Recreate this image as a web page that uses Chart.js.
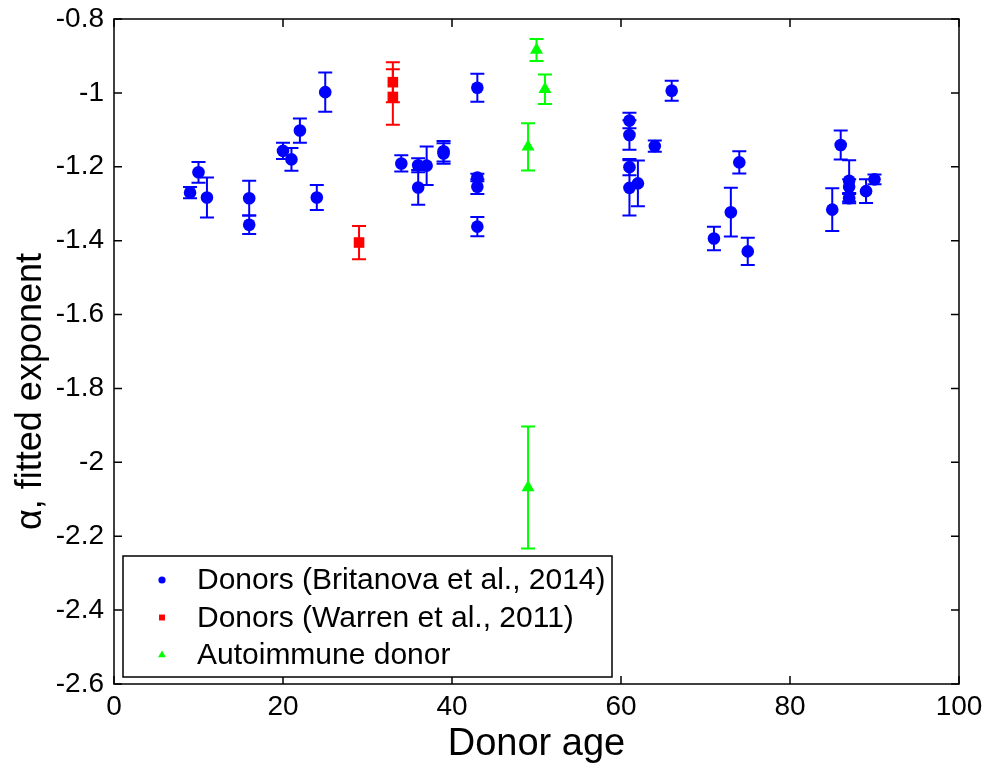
<!DOCTYPE html>
<html>
<head>
<meta charset="utf-8">
<script src="https://cdn.jsdelivr.net/npm/chart.js@4/dist/chart.umd.min.js"></script>
<style>
  html, body { margin: 0; padding: 0; background: #fff; }
  canvas { display: block; }
</style>
</head>
<body>
<canvas id="chart" width="989" height="767"></canvas>
<script>
// Britanova et al., 2014 donors
const britanovaAge = [9, 10, 11, 16, 16, 20, 21, 22, 24, 25, 34, 36, 36, 37, 39, 39, 43, 43, 43, 43,
  61, 61, 61, 61, 62, 64, 66, 71, 73, 74, 75, 85, 86, 87, 87, 87, 89, 90];
const britanovaAlpha = [-1.270, -1.215, -1.283, -1.285, -1.357, -1.157, -1.180, -1.102, -1.283, -0.998,
  -1.191, -1.196, -1.256, -1.197, -1.158, -1.164, -0.986, -1.229, -1.254, -1.362,
  -1.075, -1.114, -1.201, -1.257, -1.245, -1.144, -0.994, -1.394, -1.323, -1.188,
  -1.429, -1.316, -1.141, -1.238, -1.254, -1.285, -1.266, -1.234];
const britanovaErr = [0.015, 0.028, 0.054, 0.047, 0.025, 0.022, 0.031, 0.033, 0.034, 0.053,
  0.022, 0.019, 0.047, 0.052, 0.028, 0.028, 0.038, 0.010, 0.020, 0.026,
  0.021, 0.040, 0.022, 0.075, 0.062, 0.015, 0.027, 0.032, 0.066, 0.030,
  0.037, 0.058, 0.039, 0.056, 0.020, 0.014, 0.032, 0.013];

// Warren et al., 2011 donors
const warrenAge = [29, 33, 33];
const warrenAlpha = [-1.405, -0.971, -1.011];
const warrenErr = [0.045, 0.054, 0.075];

// autoimmune donor
const autoAge = [49, 49, 50, 51];
const autoAlpha = [-1.146, -2.068, -0.884, -0.990];
const autoErr = [0.064, 0.165, 0.030, 0.040];

const xTicksStep = 20;
const yTicksStep = 0.2;

Chart.defaults.font.family = '"Liberation Sans", Arial, sans-serif';
Chart.defaults.color = '#000';

function toPoints(xs, ys) {
  return xs.map((x, i) => ({ x: x, y: ys[i] }));
}

// vertical error bars, drawn under the markers
const errorBars = {
  id: 'errorBars',
  beforeDatasetsDraw(chart) {
    const ctx = chart.ctx;
    const xs = chart.scales.x, ys = chart.scales.y;
    ctx.save();
    ctx.lineWidth = 2;
    chart.data.datasets.forEach(ds => {
      ctx.strokeStyle = ds.borderColor;
      ds.data.forEach((p, i) => {
        const e = ds.errors[i];
        const px = xs.getPixelForValue(p.x);
        const top = ys.getPixelForValue(p.y + e);
        const bot = ys.getPixelForValue(p.y - e);
        ctx.beginPath();
        ctx.moveTo(px, top); ctx.lineTo(px, bot);
        ctx.moveTo(px - 7, top); ctx.lineTo(px + 7, top);
        ctx.moveTo(px - 7, bot); ctx.lineTo(px + 7, bot);
        ctx.stroke();
      });
    });
    ctx.restore();
  }
};

// matlab style box with inward ticks
const frame = {
  id: 'frame',
  afterDatasetsDraw(chart) {
    const ctx = chart.ctx;
    const a = chart.chartArea;
    ctx.save();
    ctx.strokeStyle = '#000';
    ctx.lineWidth = 1.5;
    ctx.beginPath();
    chart.scales.x.ticks.forEach(t => {
      const px = chart.scales.x.getPixelForValue(t.value);
      ctx.moveTo(px, a.bottom); ctx.lineTo(px, a.bottom - 8);
      ctx.moveTo(px, a.top); ctx.lineTo(px, a.top + 8);
    });
    chart.scales.y.ticks.forEach(t => {
      const py = chart.scales.y.getPixelForValue(t.value);
      ctx.moveTo(a.left, py); ctx.lineTo(a.left + 8, py);
      ctx.moveTo(a.right, py); ctx.lineTo(a.right - 8, py);
    });
    ctx.stroke();
    ctx.strokeRect(a.left, a.top, a.right - a.left, a.bottom - a.top);
    ctx.restore();
  }
};

// legend box inside the lower left corner
const boxLegend = {
  id: 'boxLegend',
  afterDraw(chart) {
    const ctx = chart.ctx;
    const a = chart.chartArea;
    const left = a.left + 9, bottom = a.bottom - 7;
    const w = 489, h = 121;
    ctx.save();
    ctx.fillStyle = '#fff';
    ctx.fillRect(left, bottom - h, w, h);
    ctx.strokeStyle = '#000';
    ctx.lineWidth = 1.5;
    ctx.strokeRect(left, bottom - h, w, h);
    ctx.font = '30px "Liberation Sans", Arial, sans-serif';
    ctx.textBaseline = 'middle';
    const sizes = [3.6, 4.2, 4.5];
    chart.data.datasets.forEach((ds, i) => {
      const y = bottom - h + 24 + i * 37.5;
      ctx.fillStyle = ds.backgroundColor;
      ctx.strokeStyle = ds.backgroundColor;
      Chart.helpers.drawPoint(ctx, { pointStyle: ds.pointStyle, radius: sizes[i], borderWidth: 0, rotation: 0 }, left + 39, y);
      ctx.fillStyle = '#000';
      ctx.fillText(ds.label, left + 74, y + 1);
    });
    ctx.restore();
  }
};

const tickFmt = v => String(parseFloat(Number(v).toFixed(1)));

new Chart(document.getElementById('chart').getContext('2d'), {
  type: 'scatter',
  data: {
    datasets: [
      {
        label: 'Donors (Britanova et al., 2014)',
        data: toPoints(britanovaAge, britanovaAlpha),
        errors: britanovaErr,
        pointStyle: 'circle', pointRadius: 6.3,
        backgroundColor: '#0000ff', borderColor: '#0000ff', borderWidth: 0
      },
      {
        label: 'Donors (Warren et al., 2011)',
        data: toPoints(warrenAge, warrenAlpha),
        errors: warrenErr,
        pointStyle: 'rect', pointRadius: 7.5,
        backgroundColor: '#ff0000', borderColor: '#ff0000', borderWidth: 0
      },
      {
        label: 'Autoimmune donor',
        data: toPoints(autoAge, autoAlpha),
        errors: autoErr,
        pointStyle: 'triangle', pointRadius: 7.5,
        backgroundColor: '#00ff00', borderColor: '#00ff00', borderWidth: 0
      }
    ]
  },
  options: {
    responsive: false,
    animation: false,
    devicePixelRatio: 1,
    layout: { padding: { top: 19, right: 30, left: 0, bottom: 0 } },
    plugins: { legend: { display: false }, tooltip: { enabled: false } },
    scales: {
      x: {
        type: 'linear', min: 0, max: 100,
        ticks: { stepSize: xTicksStep, padding: 6, font: { size: 28 }, maxRotation: 0 },
        grid: { display: false, drawTicks: false },
        border: { display: false },
        title: { display: true, text: 'Donor age', font: { size: 38, lineHeight: 1.2 }, padding: { top: 0, bottom: 0 } },
        afterFit: s => { s.height = 83; }
      },
      y: {
        type: 'linear', min: -2.6, max: -0.8,
        ticks: { stepSize: yTicksStep, padding: 10, font: { size: 28, lineHeight: 0.5 }, callback: tickFmt },
        grid: { display: false, drawTicks: false },
        border: { display: false },
        title: { display: true, text: 'α, fitted exponent        ', font: { size: 36, lineHeight: 1.2 }, padding: { top: 9, bottom: 0 } },
        afterFit: s => { s.width = 114; }
      }
    }
  },
  plugins: [errorBars, frame, boxLegend]
});
</script>
</body>
</html>
